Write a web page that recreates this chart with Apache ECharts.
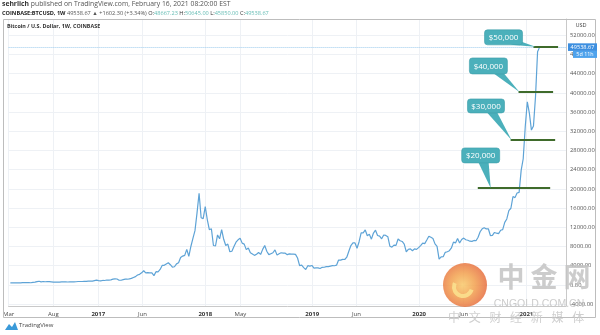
<!DOCTYPE html>
<html><head><meta charset="utf-8">
<script src="https://cdn.jsdelivr.net/npm/echarts@6/dist/echarts.min.js"></script>
<style>html,body{margin:0;padding:0;background:#fff}#c{width:600px;height:335px}</style>
</head><body><div id="c"></div>
<script>
// ---- data (weekly closes, BTC/USD, week starting Monday) ----
const firstWeek = [2016, 2, 7]; // 2016-03-07
const v2016 = [412,410,417,420,421,429,460,450,458,457,442,530,575,670,765,630,700,650,665,660,625,590,570,580,575,610,607,609,602,612,617,640,655,700,705,700,730,735,765,770,790,895,1000];
const v2017 = [905,820,920,915,1020,1000,1050,1190,1270,1230,970,965,1080,1190,1180,1240,1350,1550,1720,2050,2200,2510,2950,2500,2550,2500,2500,1930,2750,2730,3220,4050,4080,4360,4600,4200,3700,3780,4380,4600,5700,6000,6150,7400,5950,8000,9700,11300,15000,19100,14000,13800];
const v2018 = [16300,13600,11500,11700,8200,8100,10400,9600,11500,9500,8200,8500,6900,7000,8000,8900,9400,9700,8700,8500,7350,7700,6700,6450,6150,6400,6750,6350,7400,8200,7000,6300,6500,6700,7300,6200,6500,6700,6600,6600,6300,6450,6400,6400,6350,5600,4000,4100,3600,3200,4000,3900,4050];
const v2019 = [3510,3540,3530,3410,3660,3670,3810,3810,3920,4000,3990,4100,5190,5150,5310,5290,5770,7000,8200,8750,8740,7640,8990,10850,10820,11450,10250,10530,9530,10800,11400,10300,10150,9600,10400,10300,10030,8050,7870,8300,8240,9550,9200,9050,8500,6900,7420,7500,7100,7500,7390,7760];
const v2020 = [8180,8700,8600,9340,10150,9920,9670,8550,8040,5360,5830,5880,6780,6910,7120,7700,8900,8750,9670,8720,9450,9750,9400,9300,9100,9070,9260,9200,9930,11070,11680,11900,11650,11700,10280,10330,10920,10770,10670,11380,11500,13030,13740,15480,15970,18410,18180,19150,19270,23860,26280,33000];
const v2021 = [38150,35800,32260,33100,39250,48580,49538.67];

const xTickDates = ['2016-03-01','2016-08-01','2017-01-01','2017-06-01','2018-01-01','2018-05-01','2019-01-01','2019-06-01','2020-01-01','2020-06-01','2021-01-01'];
const xTickLabels = ['Mar','Aug','2017','Jun','2018','May','2019','Jun','2020','Jun','2021'];
const yTicks = [-4000,0,4000,8000,12000,16000,20000,24000,28000,32000,36000,40000,44000,48000,52000];

const levelValues = [20200, 30200, 40200, 49600];
const levelLabels = ['$20,000', '$30,000', '$40,000', '$50,000'];
const levelStart = ['2020-07-19', '2020-11-08', '2020-12-05', '2021-01-25'];
const levelEnd = ['2021-03-23', '2021-04-09', '2021-04-02', '2021-04-19'];
const calloutTipDate = ['2020-09-01', '2020-11-11', '2020-12-08', '2021-02-01'];

const lastPrice = 49538.67;
const lastPriceText = '49538.67';
const countdownText = '5d 11h';

// ---- build ----
function ts(s){ const p = s.split('-').map(Number); return Date.UTC(p[0], p[1]-1, p[2]); }
const closes = [].concat(v2016, v2017, v2018, v2019, v2020, v2021);
const t0 = Date.UTC(firstWeek[0], firstWeek[1], firstWeek[2]);
const seriesData = closes.map((v, i) => [t0 + i * 7 * 86400000, v]);
const xTickTs = xTickDates.map(ts);
const yearIdx = new Set(xTickLabels.map((l, i) => /^\d{4}$/.test(l) ? i : -1));

const FONT = '"Open Sans", "Noto Sans", sans-serif';
const chart = echarts.init(document.getElementById('c'), null, {renderer: 'canvas'});

const option = {
  animation: false,
  backgroundColor: '#ffffff',
  grid: {left: 3, right: 34, top: 19, bottom: 29, containLabel: false},
  xAxis: {
    type: 'value',
    min: ts('2016-03-01'), max: ts('2021-05-16'),
    axisLine: {show: true, onZero: false, lineStyle: {color: '#c9c9c9', width: 1}},
    axisTick: {show: false, customValues: xTickTs},
    splitLine: {show: true, lineStyle: {color: '#eef1f5', width: 1}},
    axisLabel: {
      customValues: xTickTs,
      margin: 5,
      fontFamily: FONT, fontSize: 6, color: '#4a4a4a',
      formatter: function (val) {
        let k = 0, best = Infinity;
        xTickTs.forEach((t, i) => { const d = Math.abs(t - val); if (d < best) { best = d; k = i; } });
        return yearIdx.has(k) ? '{y|' + xTickLabels[k] + '}' : xTickLabels[k];
      },
      rich: {y: {fontWeight: 'bold', fontSize: 6, fontFamily: FONT, color: '#333'}}
    }
  },
  yAxis: {
    type: 'value', position: 'right',
    min: -4400, max: 55400,
    axisLine: {show: true, lineStyle: {color: '#c9c9c9', width: 1}},
    axisTick: {show: false, customValues: yTicks},
    splitLine: {show: true, lineStyle: {color: '#eef1f5', width: 1}},
    axisLabel: {
      customValues: yTicks, margin: 4,
      fontFamily: FONT, fontSize: 5.8, color: '#555',
      formatter: v => Number(v).toFixed(2)
    }
  },
  series: [{
    type: 'line', data: seriesData, showSymbol: false, symbol: 'none',
    lineStyle: {color: '#5ea3d6', width: 1.2},
    z: 3,
    markLine: {
      silent: true, symbol: 'none', label: {show: false},
      data: [
        {yAxis: lastPrice, lineStyle: {type: 'dotted', color: '#9ccbed', width: 1}}
      ].concat(levelValues.map((v, i) => [
        {coord: [ts(levelStart[i]), v], lineStyle: {color: '#3f6b2b', width: 2, type: 'solid'}},
        {coord: [ts(levelEnd[i]), v]}
      ]))
    }
  }]
};
chart.setOption(option);

// ---- decorations ----
const g = [];
g.push({type: 'rect', shape: {x: 3.5, y: 19.5, width: 592, height: 298}, style: {fill: null, stroke: '#bdbdbd', lineWidth: 1}, z: 50, silent: true});
g.push({type: 'text', left: 2, top: 1, z: 60, style: {
  text: '{b|sehrlich} published on TradingView.com, February 16, 2021 08:20:00 EST',
  font: '6.8px ' + FONT, fill: '#555',
  rich: {b: {fontWeight: 'bold', fill: '#333', fontSize: 6.8, fontFamily: FONT}}
}});
g.push({type: 'text', left: 2, top: 10, z: 60, style: {
  text: '{b|COINBASE:BTCUSD, 1W} 49538.67 ▲ +1602.30 (+3.34%) {k|O:}{t|48667.23} {k|H:}{t|50645.00} {k|L:}{t|45850.00} {k|C:}{t|49538.67}',
  font: '5.6px ' + FONT, fill: '#555',
  rich: {
    b: {fontWeight: 'bold', fill: '#222', fontSize: 5.6, fontFamily: FONT},
    k: {fill: '#333', fontSize: 5.6, fontFamily: FONT},
    t: {fill: '#66bdb5', fontSize: 5.6, fontFamily: FONT}
  }
}});
g.push({type: 'text', left: 7, top: 24, z: 60, style: {
  text: 'Bitcoin / U.S. Dollar, 1W, COINBASE', font: 'bold 5.4px ' + FONT, fill: '#333'
}});
g.push({type: 'text', x: 581, y: 25, z: 60, style: {text: 'USD', font: '5.6px ' + FONT, fill: '#444', align: 'center', verticalAlign: 'middle'}});
const lp = chart.convertToPixel({gridIndex: 0}, [seriesData[seriesData.length - 1][0], lastPrice]);
g.push({type: 'rect', shape: {x: 568, y: lp[1] - 3.8, width: 29, height: 7.6}, style: {fill: '#3d8fe0'}, z: 70});
g.push({type: 'text', x: 582.5, y: lp[1], z: 71, style: {text: lastPriceText, font: '5.6px ' + FONT, fill: '#fff', align: 'center', verticalAlign: 'middle'}});
g.push({type: 'rect', shape: {x: 573, y: lp[1] + 3.8, width: 24, height: 7}, style: {fill: '#4fa3ec'}, z: 70});
g.push({type: 'text', x: 585, y: lp[1] + 7.3, z: 71, style: {text: countdownText, font: '5.4px ' + FONT, fill: '#fff', align: 'center', verticalAlign: 'middle'}});

const boxOff = [
  {dx: -29, dy: -40, w: 38, h: 15, b1: [-12, -25], b2: [-2, -25]},
  {dx: -44, dy: -41, w: 37, h: 14, b1: [-24, -27], b2: [-14, -27]},
  {dx: -50, dy: -34, w: 38, h: 16, b1: [-25, -18], b2: [-15, -18]},
  {dx: -51, dy: -17, w: 38, h: 15, b1: [-25, -2], b2: [-14, -5]}
];
const TEAL = '#4bb0bb';
levelValues.forEach((v, i) => {
  const tip = chart.convertToPixel({gridIndex: 0}, [ts(calloutTipDate[i]), v]);
  const o = boxOff[i];
  const bx = tip[0] + o.dx, by = tip[1] + o.dy;
  g.push({type: 'polygon', z: 80, shape: {points: [[tip[0] + o.b1[0], tip[1] + o.b1[1]], [tip[0] + o.b2[0], tip[1] + o.b2[1]], [tip[0], tip[1]]]}, style: {fill: TEAL}});
  g.push({type: 'rect', z: 81, shape: {x: bx, y: by, width: o.w, height: o.h, r: 3}, style: {fill: TEAL, stroke: '#3c9ea9', lineWidth: 0.6}});
  g.push({type: 'text', z: 82, x: bx + o.w / 2, y: by + o.h / 2 + 0.5, style: {text: levelLabels[i], font: '8px ' + FONT, fill: '#ffffff', align: 'center', verticalAlign: 'middle'}});
});

g.push({type: 'polygon', z: 60, shape: {points: [[5, 330], [9, 324], [12, 327], [15, 322], [18, 330]]}, style: {fill: '#3a9ad9'}});
g.push({type: 'text', left: 19, top: 322, z: 60, style: {text: 'TradingView', font: '6px ' + FONT, fill: '#444'}});

g.push({type: 'circle', z: 90, shape: {cx: 465, cy: 285, r: 22}, style: {
  fill: new echarts.graphic.RadialGradient(0.45, 0.5, 0.6, [{offset: 0, color: '#f8c96a'}, {offset: 0.45, color: '#f2a04e'}, {offset: 1, color: '#e4643c'}]),
  opacity: 0.85
}});
g.push({type: 'arc', z: 91, shape: {cx: 463, cy: 287, r: 9, startAngle: 0.3, endAngle: 3.6}, style: {stroke: '#fbe08e', lineWidth: 4, fill: null, opacity: 0.9}});
['中', '金', '网'].forEach((c, i) => g.push({type: 'text', z: 90, x: 511 + i * 33, y: 277, style: {text: c, font: 'bold 27px "Noto Sans CJK SC"', fill: '#c3c3c3', opacity: 0.85, align: 'center', verticalAlign: 'middle'}}));
g.push({type: 'text', z: 90, x: 539, y: 304, style: {text: 'CNGOLD.COM.CN', font: '10.5px "Liberation Sans"', fill: '#c6c6c6', align: 'center', verticalAlign: 'middle', opacity: 0.9}});
['中', '文', '财', '经', '新', '媒', '体'].forEach((c, i) => g.push({type: 'text', z: 90, x: 454 + i * 20.7, y: 317, style: {text: c, font: '12px "Noto Sans CJK SC"', fill: '#cacaca', opacity: 0.9, align: 'center', verticalAlign: 'middle'}}));

chart.setOption({graphic: g});
</script>
</body></html>
